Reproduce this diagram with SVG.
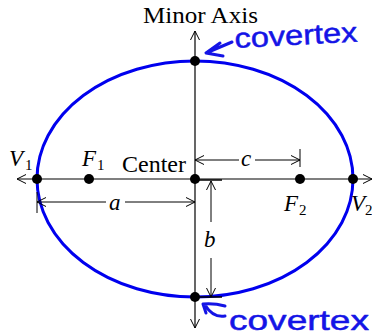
<svg xmlns="http://www.w3.org/2000/svg" width="372" height="335" viewBox="0 0 372 335">
<style>
.ax{stroke:#000;stroke-width:1.2;fill:none}
.dim{stroke:#000;stroke-width:1;fill:none}
.dot{fill:#000}
.lbl{font-family:"Liberation Serif","Times New Roman",serif;font-size:24px;fill:#000}
.it{font-style:italic;font-size:23px}
.sub{font-family:"Liberation Serif","Times New Roman",serif;font-size:15px;fill:#000}
.hand{font-family:"Liberation Sans",Arial,sans-serif;font-size:28px;fill:#1414e6;stroke:#1414e6;stroke-width:0.5;stroke-linejoin:round}
.hstroke{stroke:#1414e6;stroke-width:3;fill:none;stroke-linecap:round;stroke-linejoin:round}
</style>
<defs>
<marker id="arr" markerWidth="12" markerHeight="12" refX="10" refY="6" orient="auto-start-reverse" markerUnits="userSpaceOnUse">
<path d="M1,1.5 L10,6 L1,10.5" fill="none" stroke="#000" stroke-width="1"/>
</marker>
</defs>
<rect width="372" height="335" fill="#fff"/>
<g id="ellipse">
<ellipse cx="195" cy="179" rx="158" ry="118" fill="none" stroke="#0000ee" stroke-width="3"/>
</g>
<g id="connectors">
<line class="ax" x1="17" y1="179" x2="372" y2="179" marker-start="url(#arr)" marker-end="url(#arr)"/>
<line class="ax" x1="195" y1="31" x2="195" y2="328" marker-start="url(#arr)" marker-end="url(#arr)"/>
<line class="dim" x1="195" y1="160" x2="239" y2="160" marker-start="url(#arr)"/>
<line class="dim" x1="255" y1="160" x2="300" y2="160" marker-end="url(#arr)"/>
<line class="dim" x1="300" y1="149" x2="300" y2="167"/>
<line class="dim" x1="37" y1="202" x2="106" y2="202" marker-start="url(#arr)"/>
<line class="dim" x1="125" y1="202" x2="195" y2="202" marker-end="url(#arr)"/>
<line class="dim" x1="37" y1="192" x2="37" y2="213"/>
<line class="dim" x1="211" y1="181" x2="211" y2="222" marker-start="url(#arr)"/>
<line class="dim" x1="211" y1="258" x2="211" y2="297" marker-end="url(#arr)"/>
<line x1="195" y1="180" x2="222" y2="180" stroke="#000" stroke-width="1.5"/>
<line x1="195" y1="297" x2="222" y2="297" stroke="#000" stroke-width="1.5"/>
</g>
<g id="V1"><circle class="dot" cx="37" cy="179" r="5"/><text class="lbl it" x="9" y="166">V</text><text class="sub" x="25" y="170">1</text></g>
<g id="F1"><circle class="dot" cx="89" cy="179" r="5"/><text class="lbl it" x="82" y="166">F</text><text class="sub" x="97" y="170">1</text></g>
<g id="center"><circle class="dot" cx="195" cy="179" r="5"/><text class="lbl" x="122" y="171.5" textLength="64" lengthAdjust="spacingAndGlyphs">Center</text></g>
<g id="F2"><circle class="dot" cx="300" cy="179" r="5"/><text class="lbl it" x="284" y="211">F</text><text class="sub" x="299" y="215">2</text></g>
<g id="V2"><circle class="dot" cx="353" cy="179" r="5"/><text class="lbl it" x="351" y="211">V</text><text class="sub" x="365" y="215" font-size="14">2</text></g>
<g id="covertex-top"><circle class="dot" cx="195" cy="61" r="5"/></g>
<g id="covertex-bottom"><circle class="dot" cx="195" cy="297" r="5"/></g>
<g id="labels">
<text class="lbl" x="143" y="23" textLength="115" lengthAdjust="spacingAndGlyphs">Minor Axis</text>
<text class="lbl it" x="241" y="166">c</text>
<text class="lbl it" x="109" y="210">a</text>
<text class="lbl it" x="204" y="247">b</text>
</g>
<g id="annotation-top">
<path class="hstroke" d="M232,42 L206,53 M220,43 L206,53 L223,56"/>
<text class="hand" x="235" y="48" textLength="123" lengthAdjust="spacingAndGlyphs" transform="rotate(-3 235 48)">covertex</text>
</g>
<g id="annotation-bottom">
<path class="hstroke" d="M203,304 Q214,303 225,306 M203,304 L206,313 M205,305 Q213,318 225,316"/>
<text class="hand" x="229" y="330" textLength="140" lengthAdjust="spacingAndGlyphs">covertex</text>
</g>
</svg>
